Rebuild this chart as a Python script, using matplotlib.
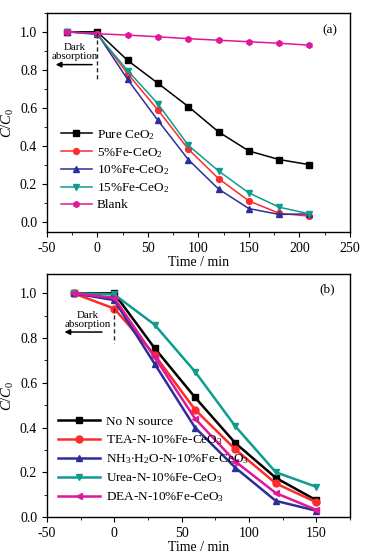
import matplotlib

matplotlib.use("Agg")
import matplotlib.pyplot as plt
from matplotlib.ticker import AutoMinorLocator, MultipleLocator

# panel (a): effect of Fe content
time_a = [-30, 0, 30, 60, 90, 120, 150, 180, 210]
pure_ceo2 = [1.0, 1.0, 0.85, 0.73, 0.608, 0.475, 0.375, 0.33, 0.303]
fe5 = [1.0, 0.99, 0.78, 0.59, 0.385, 0.23, 0.113, 0.048, 0.033]
fe10 = [1.0, 0.99, 0.75, 0.535, 0.33, 0.175, 0.073, 0.042, 0.045]
fe15 = [1.0, 0.985, 0.797, 0.622, 0.405, 0.27, 0.155, 0.08, 0.045]
blank = [1.0, 0.99, 0.983, 0.974, 0.964, 0.956, 0.948, 0.94, 0.93]
labels_a = ["Pure CeO$_2$", "5%Fe-CeO$_2$", "10%Fe-CeO$_2$", "15%Fe-CeO$_2$", "Blank"]

# panel (b): effect of N source
time_b = [-30, 0, 30, 60, 90, 120, 150]
no_n = [1.0, 1.0, 0.755, 0.535, 0.33, 0.175, 0.075]
tea = [1.0, 0.932, 0.725, 0.48, 0.302, 0.15, 0.066]
nh3 = [1.0, 0.97, 0.685, 0.40, 0.22, 0.072, 0.028]
urea = [1.0, 0.995, 0.86, 0.65, 0.405, 0.20, 0.135]
dea = [1.0, 0.98, 0.715, 0.44, 0.248, 0.107, 0.032]
labels_b = [
    "No N source",
    "TEA-N-10%Fe-CeO$_3$",
    "NH$_3$$\\cdot$H$_2$O-N-10%Fe-CeO$_3$",
    "Urea-N-10%Fe-CeO$_3$",
    "DEA-N-10%Fe-CeO$_3$",
]

COLORS = ["#000000", "#FF2A2A", "#2B2F99", "#0E9C8E", "#E0179A"]

plt.rcParams.update(
    {
        "font.family": "Liberation Serif",
        "font.size": 9.5,
        "mathtext.fontset": "custom",
        "mathtext.rm": "Liberation Serif",
        "mathtext.it": "Liberation Serif:italic",
        "axes.unicode_minus": False,
        "axes.linewidth": 1.0,
        "xtick.direction": "out",
        "ytick.direction": "out",
        "xtick.major.size": 3.5,
        "ytick.major.size": 3.5,
        "xtick.minor.size": 2,
        "ytick.minor.size": 2,
    }
)

fig = plt.figure(figsize=(3.66, 5.55), dpi=100)
ax_a = fig.add_axes([0.128, 0.582, 0.828, 0.395])
ax_b = fig.add_axes([0.128, 0.0685, 0.828, 0.438])


def style(ax, xlim, ylim, xstep):
    ax.set_xlim(*xlim)
    ax.set_ylim(*ylim)
    ax.xaxis.set_major_locator(MultipleLocator(xstep))
    ax.yaxis.set_major_locator(MultipleLocator(0.2))
    ax.xaxis.set_minor_locator(AutoMinorLocator(2))
    ax.yaxis.set_minor_locator(AutoMinorLocator(2))
    ax.yaxis.set_major_formatter(lambda v, pos: f"{v:.1f}")
    ax.tick_params(which="both", top=False, right=False, labelsize=10)
    ax.set_xlabel("Time / min", labelpad=1, fontsize=10)
    ax.set_ylabel("$C/C_0$", labelpad=3, fontsize=10.5)


def dark_mark(ax, text_xy, arrow_y, arrow_x, dash_y):
    ax.plot([0, 0], dash_y, color="0.15", lw=1.0, ls=(0, (3, 2)))
    ax.text(*text_xy, "Dark\nabsorption", ha="center", va="center", fontsize=7.8, linespacing=1.0)
    ax.annotate(
        "",
        xy=(arrow_x[1], arrow_y),
        xytext=(arrow_x[0], arrow_y),
        arrowprops=dict(arrowstyle="-|>", color="black", lw=1.1, mutation_scale=8),
    )


# panel (a)
series_a = [pure_ceo2, fe5, fe10, fe15, blank]
markers_a = ["s", "o", "^", "v", "h"]
for ys, lab, col, mk in zip(series_a, labels_a, COLORS, markers_a):
    ax_a.plot(time_a, ys, color=col, marker=mk, ms=4.2, lw=1.1, label=lab)
style(ax_a, (-50, 250), (-0.05, 1.1), 50)
ax_a.text(230, 1.01, "(a)", ha="center", va="center", fontsize=9.5)
dark_mark(ax_a, (-22, 0.895), 0.828, (-2.5, -44), (0.995, 0.745))
ax_a.legend(
    loc="lower left",
    bbox_to_anchor=(0.03, 0.07),
    frameon=False,
    fontsize=9.5,
    handlelength=2.3,
    handletextpad=0.4,
    labelspacing=0.3,
    borderaxespad=0,
)

# panel (b)
series_b = [no_n, tea, nh3, urea, dea]
markers_b = ["s", "o", "^", "v", "<"]
for ys, lab, col, mk in zip(series_b, labels_b, COLORS, markers_b):
    ax_b.plot(time_b, ys, color=col, marker=mk, ms=5, lw=1.8, label=lab)
style(ax_b, (-50, 175), (0, 1.087), 50)
ax_b.text(158.5, 1.02, "(b)", ha="center", va="center", fontsize=9.5)
dark_mark(ax_b, (-20, 0.88), 0.827, (-7, -39), (0.934, 0.778))
ax_b.legend(
    loc="lower left",
    bbox_to_anchor=(0.02, 0.03),
    frameon=False,
    fontsize=9.5,
    handlelength=3.2,
    handletextpad=0.45,
    labelspacing=0.4,
    borderaxespad=0,
)

fig.savefig("out.png", dpi=100)
